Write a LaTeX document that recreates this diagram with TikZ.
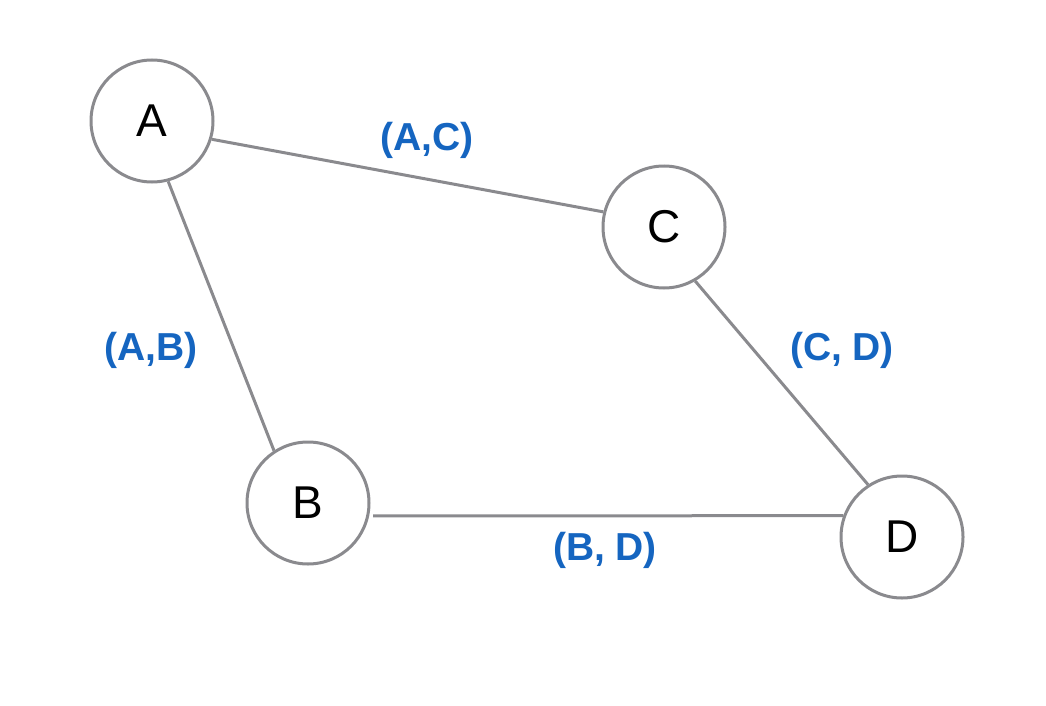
\documentclass[tikz,border=0pt]{standalone}
\usepackage{fontspec}
\setmainfont{Liberation Sans}
\definecolor{edgegray}{HTML}{8A8A8E}
\definecolor{labelblue}{HTML}{1565C0}
\begin{document}
\begin{tikzpicture}[x=1pt,y=-1pt,
  vertex/.style={circle,draw=edgegray,line width=3pt,fill=white,minimum size=122pt,inner sep=0pt,font=\fontsize{46}{46}\selectfont},
  edge/.style={draw=edgegray,line width=3pt},
  elabel/.style={text=labelblue,font=\fontsize{39}{39}\selectfont\bfseries,inner sep=0pt}]
\useasboundingbox (0,0) rectangle (1046,706);
\node[vertex] (A) at (152,121) {A};
\node[vertex] (C) at (664,227) {C};
\node[vertex] (B) at (308,503) {B};
\node[vertex] (D) at (902,537) {D};
\draw[edge] (A.-17) -- (C.166);
\draw[edge] (A.-75) -- (B.123);
\draw[edge] ([xshift=4pt]B.-12) -- (D.160);
\draw[edge] (C.-60) -- (D.123);
\node[elabel] (lac) at (427,140) {(A,C)};
\node[elabel] (lab) at (151,350) {(A,B)};
\node[elabel] (lcd) at (842,350) {(C, D)};
\node[elabel] (lbd) at (605,550) {(B, D)};
\end{tikzpicture}
\end{document}
